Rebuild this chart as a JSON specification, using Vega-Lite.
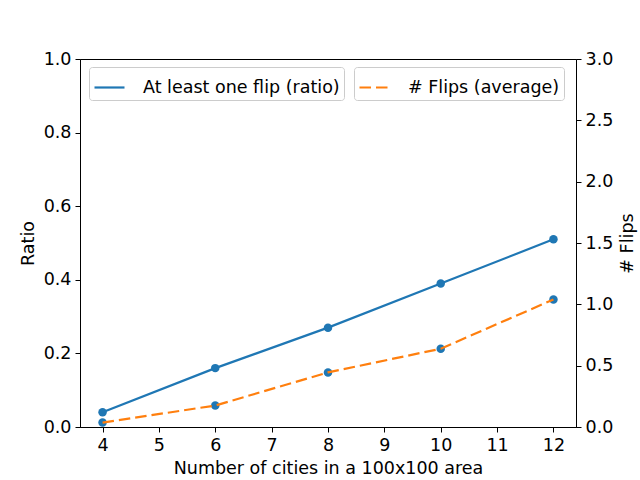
{
  "$schema": "https://vega.github.io/schema/vega-lite/v6.json",
  "width": 496,
  "height": 368,
  "autosize": {"type": "none"},
  "padding": {"left": 80, "top": 59, "right": 64, "bottom": 53},
  "background": "white",
  "config": {
    "font": "DejaVu Sans",
    "view": {"stroke": "black", "strokeWidth": 1},
    "axis": {
      "grid": false,
      "domainColor": "black",
      "tickColor": "black",
      "labelColor": "black",
      "titleColor": "black",
      "labelFont": "DejaVu Sans",
      "titleFont": "DejaVu Sans",
      "labelFontSize": 17.5,
      "titleFontSize": 17.5,
      "titleFontWeight": "normal",
      "tickSize": 5,
      "labelPadding": 4,
      "labelFlush": false,
      "labelOverlap": false
    },
    "legend": {
      "orient": "none",
      "title": null,
      "symbolType": "stroke",
      "symbolStrokeWidth": 2.2,
      "symbolSize": 900,
      "labelFont": "DejaVu Sans",
      "labelFontSize": 17.5,
      "labelColor": "black",
      "labelOffset": 17,
      "labelLimit": 400,
      "strokeColor": "#cccccc",
      "fillColor": "rgba(255,255,255,0.8)",
      "cornerRadius": 3,
      "padding": 4
    }
  },
  "data": {
    "values": [
      {"n": 4, "ratio": 0.04, "flips": 0.036},
      {"n": 6, "ratio": 0.16, "flips": 0.175},
      {"n": 8, "ratio": 0.27, "flips": 0.445},
      {"n": 10, "ratio": 0.39, "flips": 0.638},
      {"n": 12, "ratio": 0.51, "flips": 1.04}
    ]
  },
  "encoding": {
    "x": {
      "field": "n",
      "type": "quantitative",
      "scale": {"domain": [3.6, 12.4], "nice": false, "zero": false},
      "axis": {
        "values": [4, 5, 6, 7, 8, 9, 10, 11, 12],
        "title": "Number of cities in a 100x100 area",
        "titlePadding": 6
      }
    }
  },
  "layer": [
    {
      "encoding": {
        "y": {
          "field": "ratio",
          "type": "quantitative",
          "scale": {"domain": [0, 1], "nice": false},
          "axis": {
            "values": [0, 0.2, 0.4, 0.6, 0.8, 1.0],
            "format": ".1f",
            "title": "Ratio",
            "titlePadding": 6
          }
        }
      },
      "layer": [
        {
          "mark": {"type": "line", "strokeWidth": 2.2},
          "encoding": {
            "color": {
              "datum": "At least one flip (ratio)",
              "type": "nominal",
              "scale": {"range": ["#1f77b4"]},
              "legend": {"legendX": 9, "legendY": 8}
            }
          }
        },
        {
          "mark": {"type": "circle", "color": "#1f77b4", "size": 72, "opacity": 1}
        }
      ]
    },
    {
      "encoding": {
        "y": {
          "field": "flips",
          "type": "quantitative",
          "scale": {"domain": [0, 3], "nice": false},
          "axis": {
            "orient": "right",
            "values": [0, 0.5, 1.0, 1.5, 2.0, 2.5, 3.0],
            "format": ".1f",
            "title": "# Flips",
            "titleAngle": 270,
            "titleBaseline": "top",
            "titlePadding": 6
          }
        }
      },
      "layer": [
        {
          "mark": {"type": "circle", "color": "#1f77b4", "size": 72, "opacity": 1}
        },
        {
          "mark": {"type": "line", "strokeWidth": 2.2, "strokeDash": [11.5, 5]},
          "encoding": {
            "color": {
              "datum": "# Flips (average)",
              "type": "nominal",
              "scale": {"range": ["#ff7f0e"]},
              "legend": {"legendX": 274, "legendY": 8, "symbolDash": [11.5, 5]}
            }
          }
        }
      ]
    }
  ],
  "resolve": {"scale": {"y": "independent", "color": "independent"}}
}
